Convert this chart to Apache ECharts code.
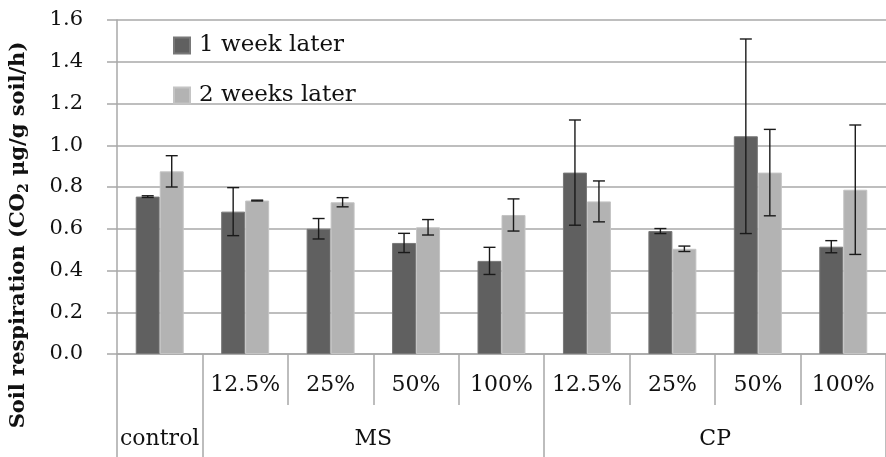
<!DOCTYPE html>
<html>
<head>
<meta charset="utf-8">
<script src="https://cdn.jsdelivr.net/npm/echarts@6/dist/echarts.min.js"></script>
<style>
  html, body { margin: 0; padding: 0; background: #fff; }
  #chart { width: 886px; height: 457px; }
</style>
</head>
<body>
<div id="chart"></div>
<script>
// Soil respiration after amendment: control, MS and CP at four rates
const rateLabels = ['', '12.5%', '25%', '50%', '100%', '12.5%', '25%', '50%', '100%'];
const groupNames = ['control', 'MS', 'CP'];
const groupCenters = [0.5, 3, 7];        // in category units along the axis
const groupBounds = [0, 1, 5, 9];         // boundaries between groups

const week1Mean = [0.754, 0.682, 0.600, 0.532, 0.446, 0.869, 0.589, 1.043, 0.514];
const week1Err  = [0.004, 0.115, 0.049, 0.046, 0.065, 0.252, 0.012, 0.466, 0.029];
const week2Mean = [0.875, 0.735, 0.727, 0.607, 0.666, 0.731, 0.504, 0.869, 0.787];
const week2Err  = [0.075, 0.002, 0.022, 0.037, 0.077, 0.098, 0.013, 0.207, 0.310];

const yTicks = [0.0, 0.2, 0.4, 0.6, 0.8, 1.0, 1.2, 1.4, 1.6];

const SERIF = '"DejaVu Serif", serif';
const BAR_W = 24;

function errorSeries(name, mean, err, offset) {
  return {
    type: 'custom',
    name: name + ' error',
    z: 5,
    data: mean.map((v, i) => [i, v, err[i]]),
    encode: { x: 0, y: 1 },
    renderItem: function (params, api) {
      const i = api.value(0), v = api.value(1), e = api.value(2);
      const cx = api.coord([i, v])[0] + offset;
      const yTop = api.coord([i, v + e])[1];
      const yBot = api.coord([i, v - e])[1];
      const cap = 6;
      const style = { stroke: '#1a1a1a', lineWidth: 1.4 };
      return {
        type: 'group',
        children: [
          { type: 'line', shape: { x1: cx, y1: yTop, x2: cx, y2: yBot }, style },
          { type: 'line', shape: { x1: cx - cap, y1: yTop, x2: cx + cap, y2: yTop }, style },
          { type: 'line', shape: { x1: cx - cap, y1: yBot, x2: cx + cap, y2: yBot }, style }
        ]
      };
    }
  };
}

const chart = echarts.init(document.getElementById('chart'), null, { renderer: 'canvas' });

chart.setOption({
  animation: false,
  backgroundColor: '#ffffff',
  grid: { left: 117, right: -5, top: 20, bottom: 103 },
  legend: {
    data: ['1 week later', '2 weeks later'],
    orient: 'vertical',
    left: 168,
    top: 29,
    itemWidth: 16,
    itemHeight: 16,
    itemGap: 27,
    icon: 'rect',
    textStyle: { fontFamily: SERIF, fontSize: 23, color: '#111', padding: [0, 0, 0, 4] }
  },
  xAxis: [
    {
      type: 'category',
      data: rateLabels,
      position: 'bottom',
      axisLine: { show: true, lineStyle: { color: '#a8a8a8', width: 1.5 } },
      axisTick: { show: true, interval: 0, length: 51, lineStyle: { color: '#a8a8a8', width: 1.5 } },
      axisLabel: { interval: 0, margin: 20, fontFamily: SERIF, fontSize: 22, color: '#111' }
    },
    {
      type: 'value',
      min: 0,
      max: 9,
      position: 'bottom',
      axisLine: { show: false },
      splitLine: { show: false },
      axisTick: {
        show: true,
        customValues: groupBounds,
        length: 104,
        lineStyle: { color: '#a8a8a8', width: 1.5 }
      },
      axisLabel: {
        customValues: groupCenters,
        margin: 74,
        fontFamily: SERIF,
        fontSize: 22,
        color: '#111',
        formatter: function (v) {
          const k = groupCenters.indexOf(v);
          return k >= 0 ? groupNames[k] : '';
        }
      }
    }
  ],
  yAxis: {
    type: 'value',
    min: 0,
    max: 1.6,
    interval: 0.2,
    axisLine: { show: true, lineStyle: { color: '#a8a8a8', width: 1.5 } },
    axisTick: { show: true, length: 10, lineStyle: { color: '#a8a8a8', width: 1.5 } },
    splitLine: { show: true, lineStyle: { color: '#a8a8a8', width: 1.5 } },
    axisLabel: {
      margin: 34,
      fontFamily: SERIF,
      fontSize: 21,
      color: '#111',
      formatter: function (v) {
        const t = yTicks.find(x => Math.abs(x - v) < 1e-6);
        return (t === undefined ? v : t).toFixed(1);
      }
    }
  },
  graphic: [
    {
      type: 'text',
      x: 19,
      y: 235,
      rotation: Math.PI / 2,
      style: {
        text: '{t|Soil respiration (CO}{s|2}{t| μg/g soil/h)}',
        align: 'center',
        verticalAlign: 'middle',
        rich: {
          t: { fontFamily: SERIF, fontWeight: 'bold', fontSize: 21, fill: '#111' },
          s: { fontFamily: SERIF, fontWeight: 'bold', fontSize: 14, fill: '#111', padding: [10, 0, 0, 0] }
        }
      }
    }
  ],
  series: [
    {
      name: '1 week later',
      type: 'bar',
      data: week1Mean,
      barWidth: BAR_W,
      barGap: '0%',
      itemStyle: { color: '#606060', borderColor: '#787878', borderWidth: 1 }
    },
    {
      name: '2 weeks later',
      type: 'bar',
      data: week2Mean,
      barWidth: BAR_W,
      barGap: '0%',
      itemStyle: { color: '#b3b3b3', borderColor: '#c4c4c4', borderWidth: 1 }
    },
    errorSeries('1 week later', week1Mean, week1Err, -BAR_W / 2),
    errorSeries('2 weeks later', week2Mean, week2Err, BAR_W / 2)
  ]
});
</script>
</body>
</html>
